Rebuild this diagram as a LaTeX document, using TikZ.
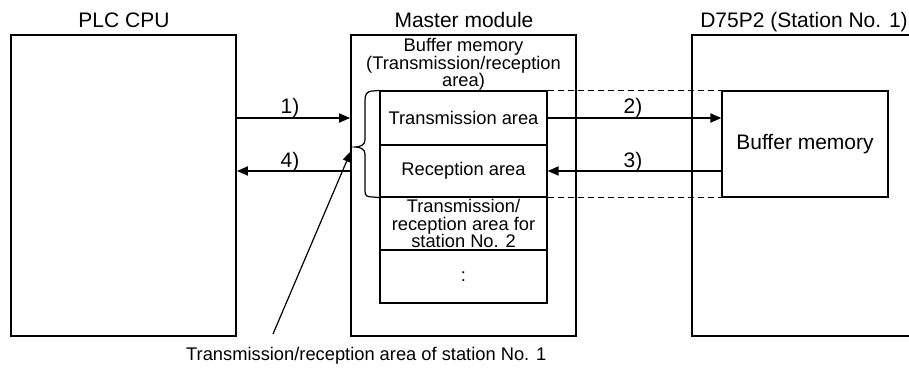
\documentclass[tikz,border=0pt]{standalone}
\usepackage{fontspec}
\setmainfont{Liberation Sans}
\usetikzlibrary{arrows.meta,calc}
\begin{document}
\begin{tikzpicture}[x=1pt,y=-1pt,
  outer/.style={draw, line width=1.8pt, rectangle, inner sep=0pt, minimum height=301pt},
  cell/.style={draw, line width=1.2pt, rectangle, inner sep=0pt, minimum width=167pt,
    align=center, font=\fontsize{18.3}{17.5}\selectfont},
  title/.style={anchor=base, inner sep=0pt, font=\fontsize{21}{24}\selectfont},
  num/.style={anchor=base, inner sep=0pt, font=\fontsize{21}{24}\selectfont},
  body/.style={inner sep=0pt, align=center, font=\fontsize{18.3}{17.5}\selectfont},
  arr/.style={line width=1.8pt, -{Triangle[length=11pt,width=9pt]}},
  ptr/.style={line width=1.2pt, -{Triangle[length=11pt,width=8pt]}},
  dsh/.style={line width=1.2pt, dash pattern=on 6pt off 4pt}
]
\useasboundingbox (0,0) rectangle (909,367);
\clip (0,0) rectangle (909,367);

% outer boxes
\node[outer, minimum width=225pt] (plc) at (123.5,185.5) {};
\node[outer, minimum width=225pt] (master) at (463.5,185.5) {};
\node[outer, minimum width=260pt] (d75) at (822,185.5) {};

% titles
\node[title] (tplc) at (124,27) {PLC CPU};
\node[title] (tmaster) at (464,27) {Master module};
\node[title] (td75) at (804,27) {D75P2 (Station No. 1)};

% master module contents
\node[body] (bmlabel) at (463.5,64.5) {Buffer memory\\(Transmission/reception\\area)};
\node[cell, minimum height=54pt] (tx) at (463.5,118) {Transmission area};
\node[cell, minimum height=52pt] (rx) at (463.5,171) {Reception area};
\node[cell, minimum height=53pt] (st2) at (463.5,223.5) {Transmission/\\reception area for\\station No. 2};
\node[cell, minimum height=53pt] (dots) at (463.5,276.5) {:};

% D75P2 buffer memory
\node[cell, minimum width=166pt, minimum height=106pt, font=\fontsize{21}{24}\selectfont] (buf) at (805,144) {Buffer memory};

% dashed links
\draw[dsh] (tx.north east) -- (buf.north west);
\draw[dsh] (rx.south east) -- (buf.south west);

% arrows
\draw[arr] (plc.east |- tx) -- (master.west |- tx);
\draw[arr] (master.west |- rx) -- (plc.east |- rx);
\draw[arr] (tx.east) -- (buf.west |- tx);
\draw[arr] (buf.west |- rx) -- (rx.east);

\node[num] (l1) at (290,113) {1)};
\node[num] (l4) at (290,167) {4)};
\node[num] (l2) at (633,113) {2)};
\node[num] (l3) at (633,167) {3)};

% brace
\coordinate (btip) at (355,147);
\draw[line width=1.2pt] (tx.north west) -- (373,91) .. controls (366,91) and (365,95) .. (365,101)
  -- (365,140) .. controls (365,145) and (360,147) .. (btip)
  .. controls (360,147) and (365,149) .. (365,154)
  -- (365,191) .. controls (365,196) and (367,197) .. (373,197) -- (rx.south west);

% pointer
\node[body, anchor=base west] (note) at (186,360) {Transmission/reception area of station No. 1};
\coordinate (pstart) at (273,334);
\coordinate (ptip) at (351,151);
\draw[ptr] (pstart) -- (ptip);
\end{tikzpicture}
\end{document}
